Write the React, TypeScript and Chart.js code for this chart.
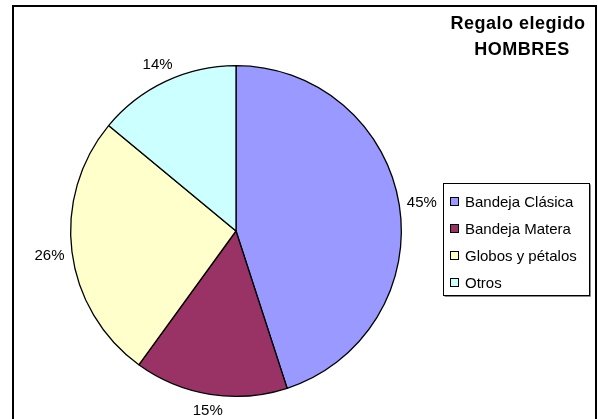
import React, { useEffect, useRef } from "react";
import { Chart, registerables } from "chart.js";

Chart.register(...registerables);

const categories = ["Bandeja Clásica", "Bandeja Matera", "Globos y pétalos", "Otros"];
const shares = [45, 15, 26, 14];
const sliceColors = ["#9999FF", "#993366", "#FFFFCC", "#CCFFFF"];
const titleLines = ["Regalo elegido", "HOMBRES"];

const FONT = '"Liberation Sans", Arial, sans-serif';

// Frame, title, legend box and outside percentage labels
const decorations = {
  id: "decorations",
  afterDraw(chart: any) {
    const ctx = chart.ctx as CanvasRenderingContext2D;
    ctx.save();

    // outer frame
    ctx.strokeStyle = "#000";
    ctx.lineWidth = 2;
    ctx.strokeRect(13, 6, 583, 430);

    // title
    ctx.fillStyle = "#000";
    ctx.font = `bold 18px ${FONT}`;
    (ctx as any).letterSpacing = "0.5px";
    ctx.textAlign = "center";
    ctx.textBaseline = "alphabetic";
    ctx.fillText(titleLines[0], 518, 29);
    ctx.fillText(titleLines[1], 522, 55);
    (ctx as any).letterSpacing = "0px";

    // legend box
    const lx = 443.5, ly = 183.5, lw = 146, lh = 112;
    ctx.fillStyle = "#fff";
    ctx.fillRect(lx, ly, lw, lh);
    ctx.lineWidth = 1;
    ctx.strokeStyle = "#888";
    ctx.beginPath();
    ctx.moveTo(lx + lw + 1, ly + 1);
    ctx.lineTo(lx + lw + 1, ly + lh + 1);
    ctx.lineTo(lx + 1, ly + lh + 1);
    ctx.stroke();
    ctx.strokeStyle = "#000";
    ctx.strokeRect(lx, ly, lw, lh);

    ctx.font = `15px ${FONT}`;
    ctx.textAlign = "left";
    ctx.textBaseline = "middle";
    categories.forEach((name, i) => {
      const cy = 202 + i * 27;
      ctx.fillStyle = sliceColors[i];
      ctx.fillRect(450.5, cy - 4.5, 8, 8);
      ctx.strokeStyle = "#000";
      ctx.strokeRect(450.5, cy - 4.5, 8, 8);
      ctx.fillStyle = "#000";
      ctx.fillText(name, 465, cy + 1);
    });

    // percentage labels outside the slices
    const meta = chart.getDatasetMeta(0);
    const total = shares.reduce((a, b) => a + b, 0);
    ctx.textAlign = "center";
    ctx.textBaseline = "middle";
    meta.data.forEach((arc: any, i: number) => {
      const p = arc.getProps(["x", "y", "startAngle", "endAngle", "outerRadius"], true);
      const mid = (p.startAngle + p.endAngle) / 2;
      const text = `${Math.round((shares[i] / total) * 100)}%`;
      const hw = ctx.measureText(text).width / 2;
      const hh = 6;
      const c = Math.cos(mid), s = Math.sin(mid);
      const d = p.outerRadius + 7 + Math.abs(c) * hw + Math.abs(s) * hh;
      ctx.fillStyle = "#000";
      ctx.fillText(text, p.x + c * d, p.y + s * d + 1);
    });

    ctx.restore();
  },
};

export default function App() {
  const ref = useRef<HTMLCanvasElement | null>(null);

  useEffect(() => {
    document.body.style.margin = "0";
    const canvas = ref.current!;
    const chart = new Chart(canvas, {
      type: "pie",
      data: {
        labels: categories,
        datasets: [
          {
            data: shares,
            backgroundColor: sliceColors,
            borderColor: "#000",
            borderWidth: 1.3,
          },
        ],
      },
      options: {
        responsive: false,
        animation: false,
        devicePixelRatio: 1,
        layout: { padding: { left: 70, right: 196, top: 65, bottom: 22 } },
        plugins: {
          legend: { display: false },
          title: { display: false },
          tooltip: { enabled: false },
        },
      },
      plugins: [decorations],
    });
    return () => chart.destroy();
  }, []);

  return (
    <div style={{ position: "absolute", left: 0, top: 0, width: 598, height: 419, background: "#fff" }}>
      <canvas ref={ref} width={598} height={419} />
    </div>
  );
}
